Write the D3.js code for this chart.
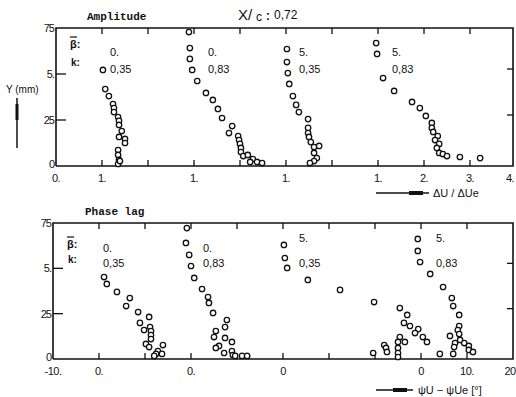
<!DOCTYPE html>
<html>
<head>
<meta charset="utf-8">
<script src="https://cdn.jsdelivr.net/npm/d3@7"></script>
<style>
  body { margin: 0; background: #fff; }
  text { font-family: "Liberation Sans", Arial, sans-serif; fill: #111; }
  .ttl { font-family: "Liberation Mono", monospace; font-weight: bold; }
</style>
</head>
<body>
<svg width="516" height="397"></svg>
<script>
// profile labels and origins (each profile drawn with its own shifted zero)
const betaLabels = ["0.", "0.", "5.", "5."];
const kLabels = ["0,35", "0,83", "0,35", "0,83"];
const ampOrigins = [0, 2, 4, 6];
const phaseOrigins = [0, 20, 40, 70];

const ampTickLabels = [[0, "0."], [1, "1."], [3, "1."], [5, "1."], [7, "1."], [8, "2."], [9, "3."], [10, "4."]];
const phaseTickLabels = [[-10, "-10."], [0, "0."], [20, "0."], [40, "0"], [70, "0"], [80, "10."], [90, "20"]];
const yTickLabels = [[7.5, "75"], [5, "5."], [2.5, "25"], [0, "0"]];

// amplitude ΔU/ΔUe vs Y (mm)
const amp1 = [[1.02,5.22],[1.07,4.18],[1.15,3.80],[1.24,3.37],[1.26,3.15],[1.26,2.93],[1.35,2.66],[1.37,2.45],[1.37,2.23],[1.43,1.90],[1.37,1.58],[1.50,1.47],[1.50,1.25],[1.35,0.87],[1.35,0.60],[1.37,0.33],[1.35,0.11],[1.39,0.27]];
const amp2 = [[0.89,7.28],[0.91,6.41],[0.91,5.82],[0.96,5.22],[1.07,4.62],[1.26,3.97],[1.41,3.59],[1.52,3.10],[1.61,2.61],[1.83,2.17],[1.76,1.79],[1.96,1.63],[1.98,1.41],[2.00,1.20],[2.02,0.98],[2.02,0.76],[2.07,0.54],[2.17,0.60],[2.28,0.38],[2.22,0.22],[2.37,0.22],[2.48,0.16]];
const amp3 = [[1.02,6.36],[1.02,5.65],[1.04,5.05],[1.07,4.46],[1.15,3.80],[1.22,3.32],[1.28,2.93],[1.48,2.55],[1.48,2.07],[1.48,1.79],[1.50,1.58],[1.54,1.30],[1.61,1.03],[1.72,1.09],[1.61,0.71],[1.67,0.43],[1.61,0.27],[1.52,0.16]];
const amp4 = [[0.96,6.68],[0.98,6.09],[1.11,4.78],[1.35,4.08],[1.74,3.48],[1.91,3.15],[2.04,2.72],[2.17,2.34],[2.17,2.07],[2.20,1.85],[2.30,1.63],[2.24,1.41],[2.33,1.20],[2.28,0.98],[2.33,0.71],[2.41,0.65],[2.50,0.54],[2.78,0.49],[3.22,0.43]];

// phase lag ψU - ψUe (deg) vs Y (mm)
const ph1 = [[1.1,4.52],[1.7,4.14],[3.9,3.70],[6.7,3.36],[5.9,2.92],[8.5,2.59],[10.9,2.32],[8.9,1.99],[11.1,1.76],[9.8,1.60],[11.3,1.54],[11.3,1.32],[11.3,1.10],[10.2,0.83],[10.9,0.66],[13.9,0.77],[12.8,0.44],[12.4,0.28],[13.7,0.28],[12.0,0.17]];
const ph2 = [[-0.9,7.22],[-1.1,6.40],[-0.4,5.74],[0.0,5.13],[0.7,4.47],[2.4,3.86],[3.7,3.42],[3.9,3.09],[4.8,2.54],[7.8,2.15],[7.4,1.76],[5.4,1.54],[5.0,1.21],[7.4,1.16],[8.9,0.94],[6.1,0.72],[5.4,0.61],[7.2,0.33],[8.9,0.44],[9.1,0.22],[9.6,0.17],[11.1,0.17],[12.2,0.17]];
const ph3 = [[0.2,6.29],[0.4,5.57],[0.9,5.02],[5.4,4.36],[12.4,3.81],[19.8,3.14],[25.4,2.81],[27.0,2.43],[26.3,1.99],[27.6,1.82],[29.4,1.65],[28.7,1.43],[30.4,1.21],[31.3,0.94],[25.4,1.21],[26.5,0.94],[25.0,0.94],[25.0,0.61],[25.0,0.33],[25.0,0.11],[22.0,0.77],[22.4,0.61],[22.6,0.39],[19.6,0.33]];
const ph4 = [[-0.7,6.62],[-0.7,5.96],[-0.2,5.35],[2.0,4.69],[4.8,3.97],[6.7,3.36],[7.0,2.92],[8.3,2.43],[8.3,1.82],[8.0,1.60],[6.3,1.27],[8.3,1.38],[8.5,1.05],[7.4,0.88],[9.4,0.88],[10.4,0.72],[10.4,0.50],[11.3,0.39],[7.2,0.66],[7.0,0.28],[4.1,0.28]];

const svg = d3.select("svg");

const xAmp = d3.scaleLinear().domain([0, 10]).range([56, 516]);
const yAmp = d3.scaleLinear().domain([0, 7.5]).range([166, 28]);
const xPh = d3.scaleLinear().domain([-10, 90]).range([53, 513]);
const yPh = d3.scaleLinear().domain([0, 7.5]).range([359, 223]);

function panel(x, y, xMax, series, origins, xLabels, title, titleX, labelPos) {
  const g = svg.append("g");
  const x0 = x.domain()[0];
  const left = x(x0), right = x(xMax), top = y(7.5), bottom = y(0);

  g.append("path")
    .attr("d", `M${left},${bottom}V${top}H${right}V${bottom}H${left}`)
    .attr("fill", "none").attr("stroke", "#111").attr("stroke-width", 1.6);

  // inward ticks on top and bottom
  const ticks = d3.range(1, 10).map(i => x0 + i * (x.domain()[1] - x0) / 10);
  g.selectAll(".tb").data(ticks).join("line")
    .attr("x1", d => x(d)).attr("x2", d => x(d))
    .attr("y1", bottom).attr("y2", bottom - 6)
    .attr("stroke", "#111").attr("stroke-width", 1.3);
  g.selectAll(".tt").data(ticks).join("line")
    .attr("x1", d => x(d)).attr("x2", d => x(d))
    .attr("y1", top).attr("y2", top + 6)
    .attr("stroke", "#111").attr("stroke-width", 1.3);

  g.selectAll(".tl").data([5, 2.5]).join("line")
    .attr("x1", left).attr("x2", left + 10)
    .attr("y1", d => y(d)).attr("y2", d => y(d))
    .attr("stroke", "#111").attr("stroke-width", 1.3);
  g.selectAll(".tr").data([5, 2.5]).join("line")
    .attr("x1", right).attr("x2", right - 6)
    .attr("y1", d => y(d) - 5).attr("y2", d => y(d) - 5)
    .attr("stroke", "#111").attr("stroke-width", 1.3);

  g.selectAll(".yl").data(yTickLabels).join("text")
    .attr("x", left - 2).attr("y", d => y(d[0]) + (d[0] === 0 ? 2 : 4))
    .attr("text-anchor", "end").attr("font-size", 11)
    .attr("letter-spacing", -1)
    .text(d => d[1]);

  g.selectAll(".xl").data(xLabels).join("text")
    .attr("x", d => Math.min(x(d[0]), 510)).attr("y", bottom + 16)
    .attr("text-anchor", "middle").attr("font-size", 11)
    .attr("letter-spacing", -0.5)
    .text(d => d[1]);

  g.append("text").attr("class", "ttl")
    .attr("x", titleX).attr("y", top - 8)
    .attr("font-size", 11).text(title);

  // β̄ and k labels
  g.append("text").attr("x", left + 14).attr("y", top + labelPos[0])
    .attr("font-size", 11).attr("font-weight", "bold").text("β:");
  g.append("line").attr("x1", left + 14).attr("x2", left + 21)
    .attr("y1", top + labelPos[0] - 11).attr("y2", top + labelPos[0] - 11)
    .attr("stroke", "#111").attr("stroke-width", 1.2);
  g.append("text").attr("x", left + 15).attr("y", top + labelPos[1])
    .attr("font-size", 10).attr("font-weight", "bold").text("k:");

  series.forEach((s, i) => {
    const off = origins[i];
    g.selectAll(null).data(s).join("circle")
      .attr("cx", d => x(d[0] + off)).attr("cy", d => y(d[1]))
      .attr("r", 2.7).attr("fill", "#fff")
      .attr("stroke", "#111").attr("stroke-width", 1.3);
  });
  return g;
}

const gA = panel(xAmp, yAmp, 9.935, [amp1, amp2, amp3, amp4], ampOrigins, ampTickLabels, "Amplitude", 87, [20, 38]);
const gP = panel(xPh, yPh, 90, [ph1, ph2, ph3, ph4], phaseOrigins, phaseTickLabels, "Phase lag", 85, [25, 40]);

// profile parameter labels
const ampLabelX = [110, 208, 299, 392];
const phLabelX = [103, 203, 299, 436];
gA.selectAll(".pb").data(betaLabels).join("text")
  .attr("x", (d, i) => ampLabelX[i]).attr("y", 56).attr("font-size", 11).text(d => d);
gA.selectAll(".pk").data(kLabels).join("text")
  .attr("x", (d, i) => ampLabelX[i]).attr("y", 73).attr("font-size", 11).text(d => d);
gP.selectAll(".pb").data(betaLabels).join("text")
  .attr("x", (d, i) => phLabelX[i]).attr("y", (d, i) => i >= 2 ? 242 : 252).attr("font-size", 11).text(d => d);
gP.selectAll(".pk").data(kLabels).join("text")
  .attr("x", (d, i) => phLabelX[i]).attr("y", 267).attr("font-size", 11).text(d => d);

// header
svg.append("text").attr("x", 238).attr("y", 20).attr("font-size", 15).text("X/");
svg.append("text").attr("x", 256).attr("y", 21).attr("font-size", 12).text("c");
svg.append("text").attr("x", 266).attr("y", 20).attr("font-size", 12).attr("font-weight", "bold").text(":");
svg.append("text").attr("x", 274).attr("y", 19).attr("font-size", 12).text("0,72");

// Y axis title with arrow
svg.append("text").attr("x", 6).attr("y", 93).attr("font-size", 10).text("Y (mm)");
svg.append("line").attr("x1", 17).attr("x2", 17).attr("y1", 98).attr("y2", 148)
  .attr("stroke", "#111").attr("stroke-width", 1.5);
svg.append("rect").attr("x", 15.5).attr("y", 104).attr("width", 3).attr("height", 16).attr("fill", "#111");

// x axis titles with arrows
function arrowTitle(x1, x2, y, label, tx) {
  svg.append("line").attr("x1", x1).attr("x2", x2).attr("y1", y).attr("y2", y)
    .attr("stroke", "#111").attr("stroke-width", 1.5);
  svg.append("rect").attr("x", x2 - 20).attr("y", y - 2).attr("width", 14).attr("height", 4).attr("fill", "#111");
  svg.append("text").attr("x", tx).attr("y", y + 4).attr("font-size", 11).text(label);
}
arrowTitle(376, 429, 193, "ΔU / ΔUe", 433);
arrowTitle(376, 413, 390, "ψU − ψUe [°]", 418);
</script>
</body>
</html>
